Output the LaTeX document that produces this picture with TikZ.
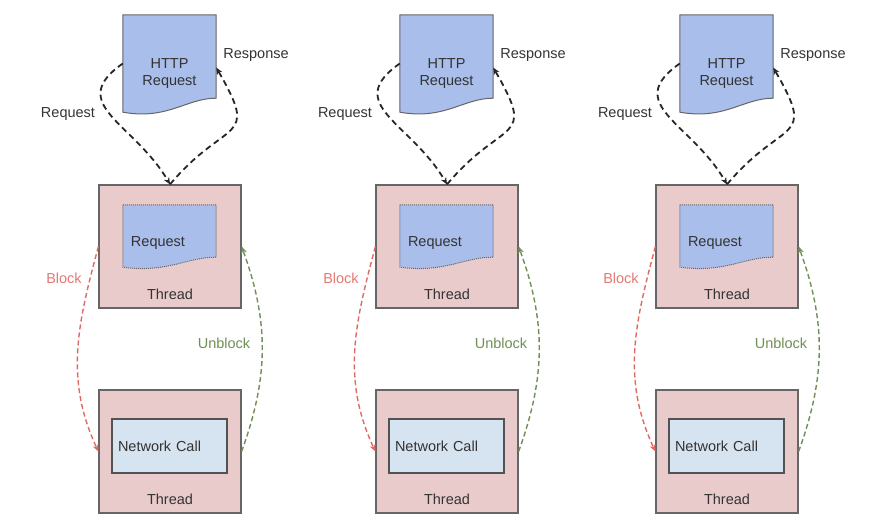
\documentclass[tikz,border=0pt]{standalone}
\usepackage{fontspec}
\setmainfont{Liberation Sans}
\usetikzlibrary{positioning, arrows.meta}

\definecolor{docblue}{HTML}{A9BEEA}
\definecolor{threadpink}{HTML}{EACBCB}
\definecolor{netblue}{HTML}{D6E3F1}
\definecolor{edgegray}{HTML}{666666}
\definecolor{labelgray}{HTML}{333333}
\definecolor{blockred}{HTML}{E06A62}
\definecolor{unblockgreen}{HTML}{6F8F55}

\begin{document}
\begin{tikzpicture}[x=1pt, y=1pt, font=\fontsize{14.5}{17}\selectfont,
    >={Stealth[length=7pt, width=6pt]},
    docnode/.style={minimum width=93, minimum height=97, inner sep=0},
    reqnode/.style={minimum width=93, minimum height=62, inner sep=0},
    docshape/.style={fill=docblue, draw=edgegray, line width=1},
    threadbox/.style={draw=edgegray, fill=threadpink, line width=1.2, minimum width=142, minimum height=123},
    netbox/.style={draw=edgegray!80!black, fill=netblue, line width=1.2, minimum width=115, minimum height=54,
        text width=103, align=left, inner sep=6, text=labelgray},
    httpline/.style={->, black!85, line width=1.8, dash pattern=on 6pt off 4pt},
    blockline/.style={->, blockred, line width=1.4, dash pattern=on 5pt off 3pt},
    unblockline/.style={->, unblockgreen, line width=1.4, dash pattern=on 5pt off 3pt}]

    \useasboundingbox (0,0) rectangle (890,-529);

    \foreach \i/\dx in {1/0, 2/277, 3/557} {

    % HTTP request document
    \node[docnode] (http\i) at (\dx+169.5,-63.5) {};
    \filldraw[docshape] (http\i.north west) -- (http\i.north east) -- ([yshift=14]http\i.south east)
        .. controls +(-30,0) and +(45,-8) .. (http\i.south west) -- cycle;
    \node[text=labelgray, align=center] at (\dx+169.5,-73.5) {HTTP\\Request};

    % Thread boxes
    \node[threadbox] (thtop\i) at (\dx+170,-246.5) {};
    \node[threadbox] (thbot\i) at (\dx+170,-451.5) {};
    \node[text=labelgray] at ([yshift=14]thtop\i.south) {Thread};
    \node[text=labelgray] at ([yshift=14]thbot\i.south) {Thread};

    % Request inside the first thread
    \node[reqnode] (req\i) at (\dx+169.5,-236) {};
    \filldraw[docshape, densely dotted] (req\i.north west) -- (req\i.north east) -- ([yshift=10]req\i.south east)
        .. controls +(-30,0) and +(45,-6) .. (req\i.south west) -- cycle;
    \node[text=labelgray] at (\dx+158,-243) {Request};

    % Network call inside the second thread
    \node[netbox] (net\i) at (\dx+169.5,-446) {Network Call};

    % Request / response
    \draw[httpline] (http\i.west) to[out=215, in=120, looseness=1.4] (thtop\i.north);
    \draw[httpline] (thtop\i.north) to[out=50, in=-60, looseness=1.8] ([yshift=-4]http\i.east);
    \node[text=labelgray] at (\dx+68,-114) {Request};
    \node[text=labelgray] at (\dx+256,-55) {Response};

    % Block / unblock
    \draw[blockline] (thtop\i.west) to[out=255, in=115] (thbot\i.west);
    \draw[unblockline] (thbot\i.east) to[out=70, in=-70] (thtop\i.east);
    \node[text=blockred!90] at (\dx+64,-278) {Block};
    \node[text=unblockgreen] at (\dx+224,-343) {Unblock};
    }

\end{tikzpicture}
\end{document}
